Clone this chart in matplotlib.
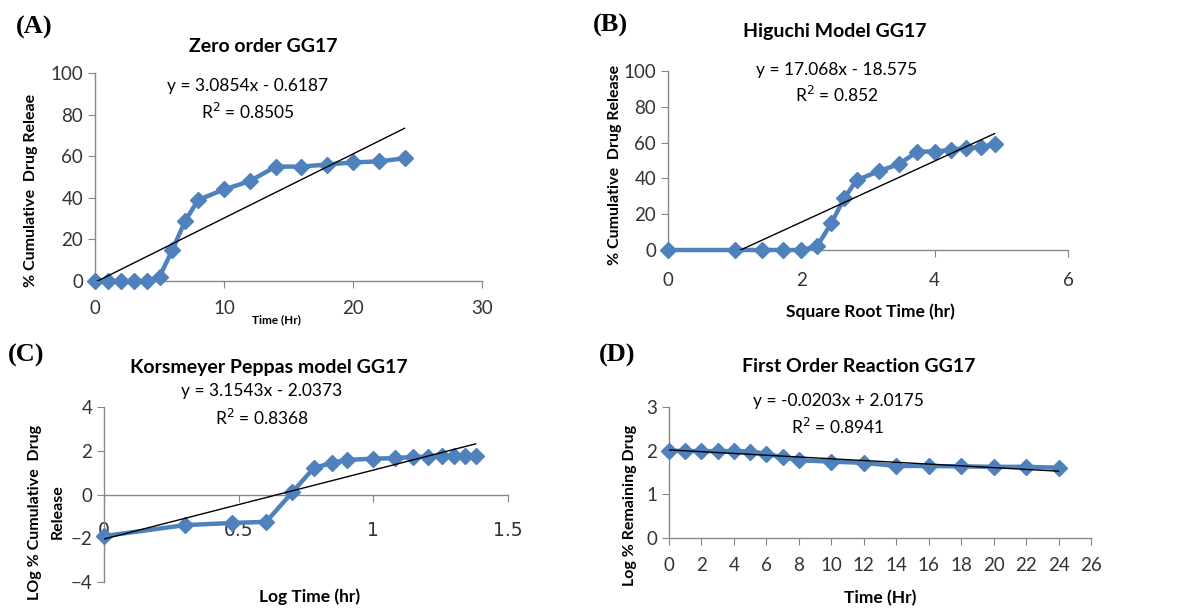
import matplotlib
matplotlib.use("Agg")
import matplotlib.pyplot as plt
import numpy as np

# release data for GG17
time_hr = [0, 1, 2, 3, 4, 5, 6, 7, 8, 10, 12, 14, 16, 18, 20, 22, 24]
cum_release = [0, 0, 0, 0, 0, 2, 15, 29, 39, 44, 48, 55, 55, 56, 57, 57.5, 59]

sqrt_time = [0, 1, 1.414, 1.732, 2, 2.236, 2.449, 2.646, 2.828, 3.162, 3.464,
             3.742, 4, 4.243, 4.472, 4.690, 4.899]

log_time = [0, 0.301, 0.477, 0.602, 0.699, 0.778, 0.845, 0.903, 1.0, 1.079,
            1.146, 1.204, 1.255, 1.301, 1.342, 1.380]
log_cum_release = [-1.9, -1.4, -1.3, -1.25, 0.1, 1.2, 1.45, 1.58, 1.64, 1.66,
                   1.72, 1.73, 1.74, 1.75, 1.76, 1.77]

log_remaining = [2.0, 1.99, 1.99, 1.99, 1.99, 1.98, 1.93, 1.85, 1.78, 1.75,
                 1.72, 1.65, 1.65, 1.64, 1.63, 1.63, 1.61]

# trend lines (slope, intercept) as printed on the chart
fit_zero = (3.0854, -0.6187)
fit_higuchi = (17.068, -18.575)
fit_peppas = (3.1543, -2.0373)
fit_first = (-0.0203, 2.0175)

W, H = 1191, 609
BLUE = "#4F81BD"
GREY = "#878787"
SANS = "Lato"

fig = plt.figure(figsize=(W / 100, H / 100), dpi=100)


def rect(l, t, r, b):
    return [l / W, 1 - b / H, (r - l) / W, (b - t) / H]


def txt(x, y, s, **kw):
    kw.setdefault("ha", "center")
    kw.setdefault("va", "center")
    kw.setdefault("family", SANS)
    fig.text(x / W, 1 - y / H, s, **kw)


def style(ax):
    for side in ["top", "right"]:
        ax.spines[side].set_visible(False)
    for side in ["left", "bottom"]:
        ax.spines[side].set_color(GREY)
        ax.spines[side].set_linewidth(1.0)
    ax.tick_params(colors=GREY, labelcolor="#333333", labelsize=13.5, length=5,
                   direction="out")
    for lab in ax.get_xticklabels() + ax.get_yticklabels():
        lab.set_family(SANS)


def draw(ax, x, y, fit):
    ax.plot(x, y, color=BLUE, lw=3.2, marker="D", ms=8.5, clip_on=False, zorder=3)
    xs = np.array([x[0], x[-1]])
    ax.plot(xs, fit[0] * xs + fit[1], color="black", lw=1, zorder=4)


TITLE = dict(weight="bold", fontsize=14)
EQ = dict(fontsize=12.5)
YLAB = dict(rotation=90, weight="bold", fontsize=11.5)
PANEL = dict(family="Liberation Serif", weight="bold", fontsize=19)

# (A) zero order
ax = fig.add_axes(rect(95, 73, 482, 281))
draw(ax, time_hr, cum_release, fit_zero)
ax.set_xlim(0, 30)
ax.set_ylim(0, 100)
ax.set_xticks([0, 10, 20, 30])
ax.set_yticks(range(0, 101, 20))
style(ax)
ax.tick_params(axis="x", pad=9)
txt(34, 27, "(A)", **PANEL)
txt(263, 47, "Zero order GG17", **TITLE)
txt(248, 86, "y = 3.0854x - 0.6187", **EQ)
txt(248, 112, "R$^2$ = 0.8505", **EQ)
txt(31, 190, "% Cumulative  Drug Releae", **YLAB)
txt(276, 320, "Time (Hr)", weight="bold", fontsize=8.5)

# (B) Higuchi
ax = fig.add_axes(rect(668, 71, 1068, 250))
draw(ax, sqrt_time, cum_release, fit_higuchi)
ax.set_xlim(0, 6)
ax.set_ylim(0, 100)
ax.set_xticks([0, 2, 4, 6])
ax.set_yticks(range(0, 101, 20))
style(ax)
ax.tick_params(axis="x", pad=11)
txt(610, 25, "(B)", **PANEL)
txt(835, 32, "Higuchi Model GG17", **TITLE)
txt(837, 70, "y = 17.068x - 18.575", **EQ)
txt(837, 95, "R$^2$ = 0.852", **EQ)
txt(615, 165, "% Cumulative  Drug Release", **YLAB)
txt(870, 312, "Square Root Time (hr)", weight="bold", fontsize=12.5)

# (C) Korsmeyer Peppas
ax = fig.add_axes(rect(104, 407, 508, 582))
draw(ax, log_time, log_cum_release, fit_peppas)
ax.set_xlim(0, 1.5)
ax.set_ylim(-4, 4)
ax.set_xticks([0, 0.5, 1, 1.5])
ax.set_xticklabels(["0", "0.5", "1", "1.5"])
ax.set_yticks([-4, -2, 0, 2, 4])
style(ax)
ax.spines["bottom"].set_position(("data", 0))
ax.tick_params(axis="x", pad=14)
txt(26, 355, "(C)", **PANEL)
txt(269, 367, "Korsmeyer Peppas model GG17", **TITLE)
txt(262, 391, "y = 3.1543x - 2.0373", **EQ)
txt(262, 418, "R$^2$ = 0.8368", **EQ)
txt(35, 512, "LOg % Cumulative  Drug", **YLAB)
txt(58, 512, "Release", **YLAB)
txt(310, 597, "Log Time (hr)", weight="bold", fontsize=12.5)

# (D) first order
ax = fig.add_axes(rect(669, 407, 1091, 538))
draw(ax, time_hr, log_remaining, fit_first)
ax.set_xlim(0, 26)
ax.set_ylim(0, 3)
ax.set_xticks(range(0, 27, 2))
ax.set_yticks([0, 1, 2, 3])
style(ax)
ax.tick_params(axis="x", pad=9)
txt(617, 355, "(D)", **PANEL)
txt(859, 367, "First Order Reaction GG17", **TITLE)
txt(838, 401, "y = -0.0203x + 2.0175", **EQ)
txt(838, 427, "R$^2$ = 0.8941", **EQ)
txt(630, 505, "Log % Remaining Drug", **YLAB)
txt(880, 598, "Time (Hr)", weight="bold", fontsize=12.5)

fig.savefig("out.png", dpi=100)
